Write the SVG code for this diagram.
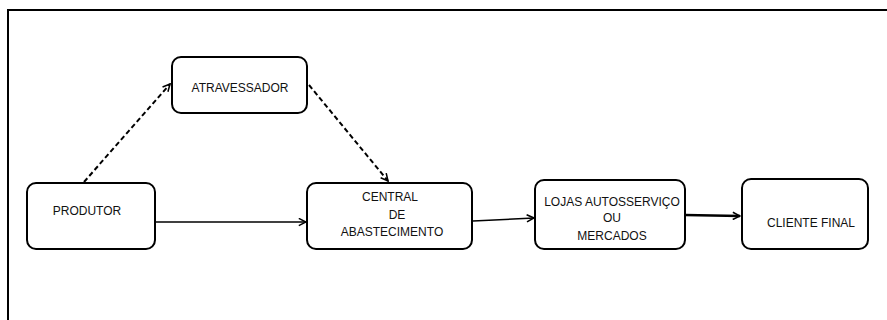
<svg xmlns="http://www.w3.org/2000/svg" width="887" height="320" viewBox="0 0 887 320">
<defs>
<style>
.box{fill:#fff;stroke:#000;stroke-width:2}
.lbl{font-family:"Liberation Sans",Arial,sans-serif;font-size:12px;fill:#111;text-anchor:middle}
.con{fill:none;stroke:#000;stroke-width:1.6}
.dash{stroke-dasharray:5,3;stroke-width:2}
.frame{fill:none;stroke:#000;stroke-width:2}
</style>
<marker id="arr" viewBox="0 0 10 10" refX="9" refY="5" markerWidth="9" markerHeight="9" markerUnits="userSpaceOnUse" orient="auto">
<path d="M1,1 L9,5 L1,9" fill="none" stroke="#000" stroke-width="1.7"/>
</marker>
</defs>
<rect width="887" height="320" fill="#fff"/>
<path class="frame" d="M8,320 L8,10 L887,10"/>
<g id="connectors">
<line class="con" x1="155" y1="222" x2="306" y2="222" marker-end="url(#arr)"/>
<line class="con dash" x1="84" y1="182" x2="170" y2="84" marker-end="url(#arr)"/>
<line class="con dash" x1="309" y1="85" x2="388" y2="181" marker-end="url(#arr)"/>
<line class="con" x1="473" y1="221" x2="534" y2="218" marker-end="url(#arr)"/>
<line class="con" style="stroke-width:2.4" x1="685" y1="215" x2="740" y2="216" marker-end="url(#arr)"/>
</g>
<g id="atravessador">
<rect class="box" x="172" y="57" width="135" height="56" rx="9"/>
<text class="lbl" x="240" y="92">ATRAVESSADOR</text>
</g>
<g id="produtor">
<rect class="box" x="27" y="183" width="128" height="66" rx="9"/>
<text class="lbl" x="87" y="215">PRODUTOR</text>
</g>
<g id="central">
<rect class="box" x="307" y="183" width="165" height="66" rx="9"/>
<text class="lbl" x="390" y="201">CENTRAL</text>
<text class="lbl" x="397" y="219">DE</text>
<text class="lbl" x="392" y="236">ABASTECIMENTO</text>
</g>
<g id="lojas">
<rect class="box" x="535" y="180" width="150" height="69" rx="9"/>
<text class="lbl" x="612" y="206">LOJAS AUTOSSERVIÇO</text>
<text class="lbl" x="612" y="222">OU</text>
<text class="lbl" x="612" y="240">MERCADOS</text>
</g>
<g id="cliente">
<rect class="box" x="742" y="179" width="126" height="70" rx="9"/>
<text class="lbl" x="811" y="227">CLIENTE FINAL</text>
</g>
</svg>
